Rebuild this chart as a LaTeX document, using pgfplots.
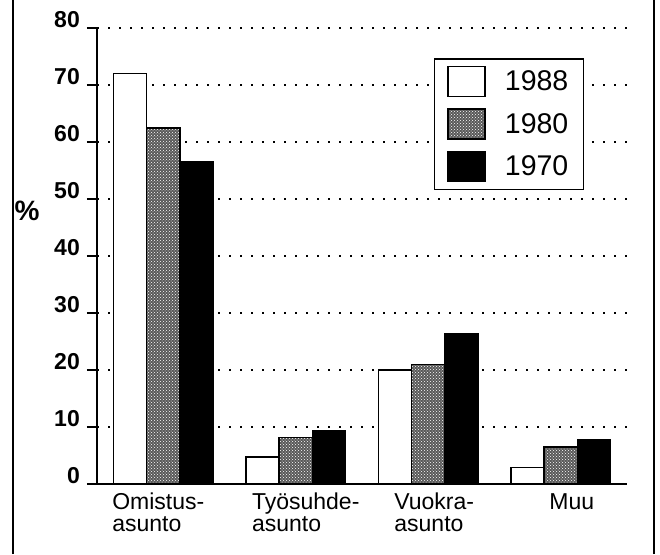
\documentclass[border=0pt]{standalone}
\usepackage{pgfplots}
\pgfplotsset{compat=1.18}
\usepackage{fontspec}
\setmainfont{Liberation Sans}
\usetikzlibrary{patterns}
\begin{document}
\begin{tikzpicture}
\path[use as bounding box] (0pt,0pt) rectangle (660pt,554pt);
\draw[line width=2pt] (12.5pt,0pt) -- (12.5pt,554pt);
\draw[line width=2pt] (653.5pt,0pt) -- (653.5pt,554pt);
\node[font=\bfseries\fontsize{28}{28}\selectfont, inner sep=0pt] at (27pt,343pt) {\%};
\begin{axis}[
  at={(97pt,70pt)}, anchor=south west,
  scale only axis, width=530pt, height=456pt,
  xmin=-0.5, xmax=3.5, ymin=0, ymax=80,
  axis lines=left, axis line style={-, line width=2pt},
  ytick={0,10,...,80},
  yticklabel={\fontsize{23}{23}\selectfont\bfseries\pgfmathprintnumber{\tick}},
  xtick={0,1,2,3},
  xticklabels={},
  major x tick style={draw=none},
  major y tick style={line width=2pt, black},
  tick align=outside,
  major tick length=10pt,
  yticklabel style={inner sep=0pt, xshift=-7pt, yshift=8.5pt},
  /pgf/number format/assume math mode=true,
  ymajorgrids,
  grid style={black, line width=1.6pt, dash pattern=on 1.6pt off 9.4pt},
  legend style={at={(0.919,0.934)}, anchor=north east, draw=black, line width=1.5pt,
    font=\fontsize{28.5}{28.5}\selectfont, inner xsep=13pt, inner ysep=7pt,
    row sep=11pt, column sep=17pt, nodes={inner sep=2pt}},
  legend cell align=left,
  clip=false,
]
\addplot[ybar, bar width=0.25, bar shift=-0.25, draw=black, line width=1.5pt, fill=white, forget plot]
  coordinates {(0,72) (1,4.7) (2,20.0) (3,2.9)};
\addplot[ybar, bar width=0.25, bar shift=0, draw=black, line width=1.5pt, fill=black!65,
  postaction={pattern=crosshatch dots, pattern color=white}, forget plot]
  coordinates {(0,62.5) (1,8.2) (2,21.0) (3,6.5)};
\addplot[ybar, bar width=0.25, bar shift=0.25, draw=black, line width=1.5pt, fill=black, forget plot]
  coordinates {(0,56.5) (1,9.3) (2,26.4) (3,7.8)};
\addlegendimage{legend image code/.code={\draw[fill=white,line width=1.5pt] (0pt,-15pt) rectangle (37pt,15pt);}}
\addlegendentry{1988}
\addlegendimage{legend image code/.code={\draw[fill=black!65,line width=1.5pt,postaction={pattern=crosshatch dots, pattern color=white}] (0pt,-15pt) rectangle (37pt,15pt);}}
\addlegendentry{1980}
\addlegendimage{legend image code/.code={\draw[fill=black,line width=1.5pt] (0pt,-15pt) rectangle (37pt,15pt);}}
\addlegendentry{1970}
\begin{scope}[every node/.style={anchor=north, align=left, inner sep=0pt, font=\fontsize{23}{22}\selectfont}]
\node[xshift=-5pt, yshift=-9pt] at (axis cs:0,0) {Omistus-\\asunto};
\node[xshift=10pt, yshift=-9pt] at (axis cs:1,0) {Työsuhde-\\asunto};
\node[xshift=6pt, yshift=-9pt] at (axis cs:2,0) {Vuokra-\\asunto};
\node[xshift=11pt, yshift=-9pt] at (axis cs:3,0) {Muu};
\end{scope}
\end{axis}
\end{tikzpicture}
\end{document}
